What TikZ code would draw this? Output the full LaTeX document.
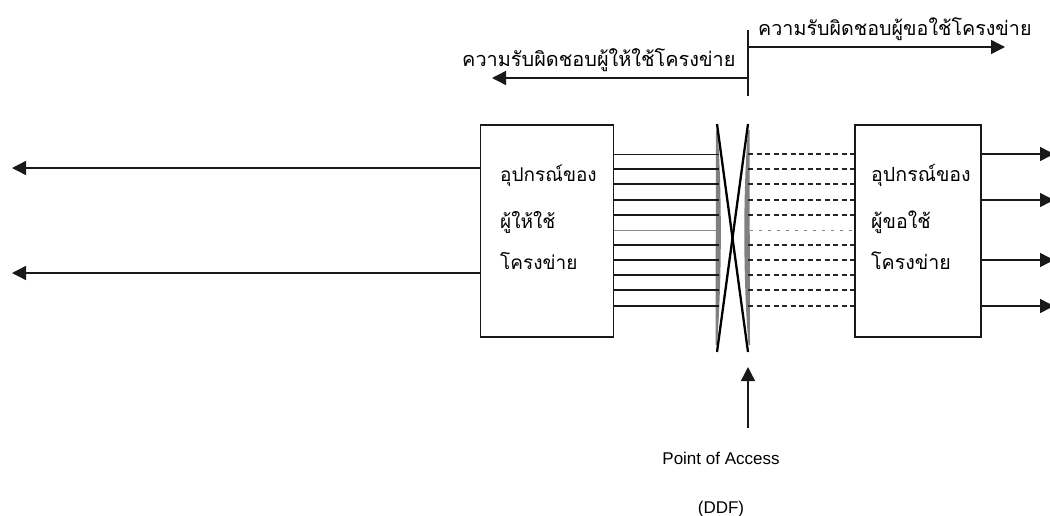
\documentclass[tikz,border=0pt]{standalone}
\usepackage{fontspec}
\setmainfont{Liberation Sans}
\newfontfamily\thaifont[Script=Thai]{Loma}
\usetikzlibrary{arrows.meta}
\tikzset{
  line/.style={draw=black!90,line width=1.4pt},
  arr/.style={line,-{Triangle[length=14pt,width=14pt]}},
  boxn/.style={draw=black!90,line width=1.8pt,fill=white,inner sep=0pt,anchor=north west},
  thai/.style={font=\thaifont\fontsize{19}{22}\selectfont,inner sep=0pt,anchor=base west},
  thaihead/.style={thai,font=\thaifont\fontsize{19.9}{22}\selectfont},
  sans/.style={font=\fontsize{17}{20}\selectfont,inner sep=0pt,anchor=base},
  solidw/.style={draw=black!90,line width=1.2pt},
  dashw/.style={draw=black!85,line width=1.1pt,dash pattern=on 5pt off 3.5pt},
  band/.style={fill=black!50,draw=none}
}
\begin{document}
\begin{tikzpicture}[x=1pt,y=-1pt]
\useasboundingbox (0,0) rectangle (1050,515);
% boxes
\node[boxn,minimum width=133pt,minimum height=212pt] (L) at (479.5,124) {};
\node[boxn,minimum width=126pt,minimum height=212pt] (R) at (854,124) {};
% lens bands
\fill[band] (716,130) -- (715.5,345) -- (717,345) .. controls (722,280) and (722,190) .. (717.5,130) -- cycle;
\fill[band] (749.5,130) -- (750,345) -- (748.5,345) .. controls (743,280) and (743,190) .. (748,130) -- cycle;
% wires
\foreach \y/\s in {154/1.0,169/1.4,184/1.5,200/1.2,215/1.4,245/1.2,260/1.5,275/1.1,290/1.3,306/1.4}{
  \coordinate (a) at (L.north east |- 0,\y);
  \coordinate (b) at (719,\y);
  \draw[solidw,line width=\s pt] (a) -- (b);
  \coordinate (c) at (748,\y);
  \coordinate (d) at (R.north west |- 0,\y);
  \draw[dashw] (c) -- (d);
}
\coordinate (a6) at (L.north east |- 0,230);
\coordinate (b6) at (717,230);
\draw[draw=black!45,line width=1pt] (a6) -- (b6);
\coordinate (c6) at (750,230);
\coordinate (d6) at (R.north west |- 0,230);
\draw[draw=black!50,line width=.8pt,dash pattern=on 3pt off 6pt] (c6) -- (d6);
% cross
\coordinate (x1) at (717,124);
\coordinate (x2) at (748,352);
\coordinate (x3) at (748,124);
\coordinate (x4) at (717,352);
\draw[line width=2.3pt,black] (x1) -- (x2);
\draw[line width=2.3pt,black] (x3) -- (x4);
% responsibility arrows
\coordinate (t0) at (748,30);
\coordinate (t1) at (748,96);
\coordinate (m1) at (748,47);
\coordinate (m2) at (748,78);
\coordinate (e1) at (1005,47);
\coordinate (e2) at (492,78);
\draw[line width=1.2pt,black!90] (t0) -- (t1);
\draw[arr] (m1) -- (e1);
\draw[arr] (m2) -- (e2);
\node[thaihead,font=\thaifont\fontsize{19.7}{22}\selectfont] (tr) at (758,35) {ความรับผิดชอบผู้ขอใช้โครงข่าย};
\node[thaihead] (tl) at (462,66) {ความรับผิดชอบผู้ให้ใช้โครงข่าย};
% left outgoing
\coordinate (l1) at (12,168);
\coordinate (l2) at (12,273);
\draw[arr] (L.north west |- 0,168) -- (l1);
\draw[arr] (L.north west |- 0,273) -- (l2);
% right outgoing
\foreach \y in {154,200,260,306}{
  \coordinate (r) at (1054,\y);
  \draw[arr] (R.north east |- 0,\y) -- (r);
}
% box text
\node[thai] (lt1) at (500,181) {อุปกรณ์ของ};
\node[thai] (lt2) at (500,228) {ผู้ให้ใช้};
\node[thai] (lt3) at (500,269) {โครงข่าย};
\node[thai,font=\thaifont\fontsize{19.6}{22}\selectfont] (rt1) at (871,181) {อุปกรณ์ของ};
\node[thai,font=\thaifont\fontsize{19.6}{22}\selectfont] (rt2) at (871,228) {ผู้ขอใช้};
\node[thai,font=\thaifont\fontsize{19.6}{22}\selectfont] (rt3) at (871,269) {โครงข่าย};
% access
\node[sans] (p) at (721,464) {Point of Access};
\node[sans] (q) at (721,513) {(DDF)};
\coordinate (pa) at (748,367);
\coordinate (pb) at (748,428);
\draw[arr] (pb) -- (pa);
\end{tikzpicture}
\end{document}
